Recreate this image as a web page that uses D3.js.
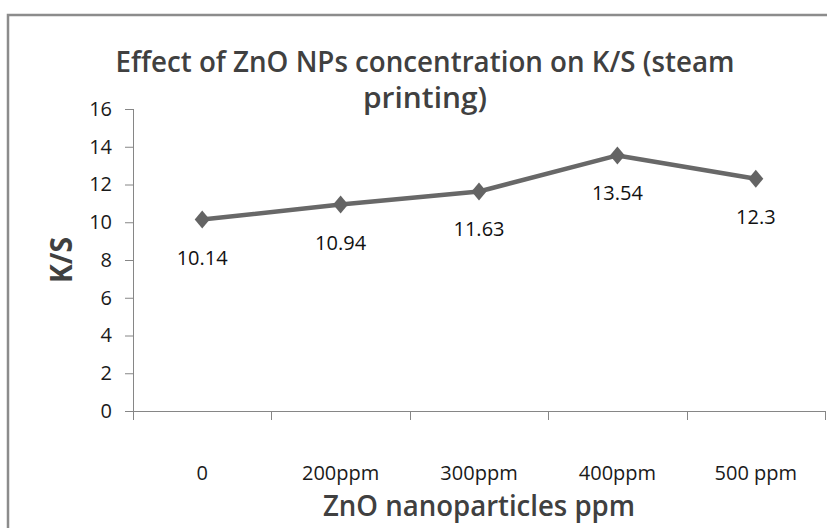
<!DOCTYPE html>
<html>
<head>
<meta charset="utf-8">
<script src="https://cdn.jsdelivr.net/npm/d3@7/dist/d3.min.js"></script>
<style>
  html, body { margin: 0; padding: 0; background: #fff; }
  svg { display: block; }
</style>
</head>
<body>
<svg id="chart" width="827" height="528"></svg>
<script>
const categories = ["0", "200ppm", "300ppm", "400ppm", "500 ppm"];
const ksValues = [10.14, 10.94, 11.63, 13.54, 12.3];
const dataLabels = ["10.14", "10.94", "11.63", "13.54", "12.3"];
const yTicks = [0, 2, 4, 6, 8, 10, 12, 14, 16];
const titleLines = ["Effect of ZnO NPs concentration on K/S (steam", "printing)"];
const xTitle = "ZnO nanoparticles ppm";
const yTitle = "K/S";

const svg = d3.select("#chart");
const font = "'Open Sans', 'Liberation Sans', sans-serif";

// outer frame
svg.append("rect")
  .attr("x", 8).attr("y", 15).attr("width", 840).attr("height", 540)
  .attr("fill", "#fff").attr("stroke", "#8c8c8c").attr("stroke-width", 2.5);

const x = d3.scaleBand().domain(categories).range([133, 825]);
const y = d3.scaleLinear().domain([0, 16]).range([411, 109]);

// y axis
const yAxis = svg.append("g")
  .attr("transform", "translate(133,0)")
  .call(d3.axisLeft(y).tickValues(yTicks).tickSize(8).tickPadding(13).tickSizeOuter(0));
yAxis.select(".domain").attr("stroke", "#868686").attr("d", "M0.5,109V420");
yAxis.selectAll(".tick line").attr("stroke", "#868686");
yAxis.selectAll(".tick text")
  .attr("font-family", font).attr("font-size", 20).attr("fill", "#1a1a1a");

// x axis (labels via band axis, boundary ticks drawn separately)
const xAxis = svg.append("g")
  .attr("transform", "translate(0,411)")
  .call(d3.axisBottom(x).tickSize(0).tickPadding(55).tickSizeOuter(0));
xAxis.select(".domain").attr("stroke", "#868686");
xAxis.selectAll(".tick text")
  .attr("font-family", font).attr("font-size", 20).attr("fill", "#1a1a1a");

const boundaries = categories.map(c => x(c)).concat([x.range()[1]]);
svg.append("g").selectAll("line")
  .data(boundaries)
  .join("line")
  .attr("x1", d => Math.round(d) + 0.5).attr("x2", d => Math.round(d) + 0.5)
  .attr("y1", 411).attr("y2", 420)
  .attr("stroke", "#868686");

// line
const cx = c => x(c) + x.bandwidth() / 2;
const line = d3.line().x((d, i) => cx(categories[i])).y(d => y(d));
svg.append("path")
  .datum(ksValues)
  .attr("d", line)
  .attr("fill", "none")
  .attr("stroke", "#686868")
  .attr("stroke-width", 4.5)
  .attr("stroke-linejoin", "round");

// diamond markers
svg.append("g").selectAll("path")
  .data(ksValues)
  .join("path")
  .attr("d", "M0,-9L7.5,0L0,9L-7.5,0Z")
  .attr("transform", (d, i) => `translate(${cx(categories[i])},${y(d)})`)
  .attr("fill", "#646464");

// data labels
svg.append("g").selectAll("text")
  .data(ksValues)
  .join("text")
  .attr("x", (d, i) => cx(categories[i]))
  .attr("y", d => y(d) + 45)
  .attr("text-anchor", "middle")
  .attr("font-family", font).attr("font-size", 20)
  .attr("fill", "#111")
  .text((d, i) => dataLabels[i]);

// title
const tl = svg.append("g");
tl.append("text")
  .attr("x", 425).attr("y", 72)
  .attr("text-anchor", "middle")
  .attr("font-family", font).attr("font-size", 29).attr("font-weight", "600")
  .attr("fill", "#404040")
  .attr("textLength", 619).attr("lengthAdjust", "spacingAndGlyphs")
  .text(titleLines[0]);
tl.append("text")
  .attr("x", 425).attr("y", 108)
  .attr("text-anchor", "middle")
  .attr("font-family", font).attr("font-size", 29).attr("font-weight", "600")
  .attr("fill", "#404040")
  .attr("textLength", 124).attr("lengthAdjust", "spacingAndGlyphs")
  .text(titleLines[1]);

// axis titles
svg.append("text")
  .attr("x", 479).attr("y", 516)
  .attr("text-anchor", "middle")
  .attr("font-family", font).attr("font-size", 28).attr("font-weight", "600")
  .attr("fill", "#404040")
  .attr("textLength", 312).attr("lengthAdjust", "spacingAndGlyphs")
  .text(xTitle);

svg.append("text")
  .attr("transform", "translate(72,260) rotate(-90)")
  .attr("text-anchor", "middle")
  .attr("font-family", font).attr("font-size", 30).attr("font-weight", "bold")
  .attr("fill", "#404040")
  .attr("textLength", 46).attr("lengthAdjust", "spacingAndGlyphs")
  .text(yTitle);
</script>
</body>
</html>
